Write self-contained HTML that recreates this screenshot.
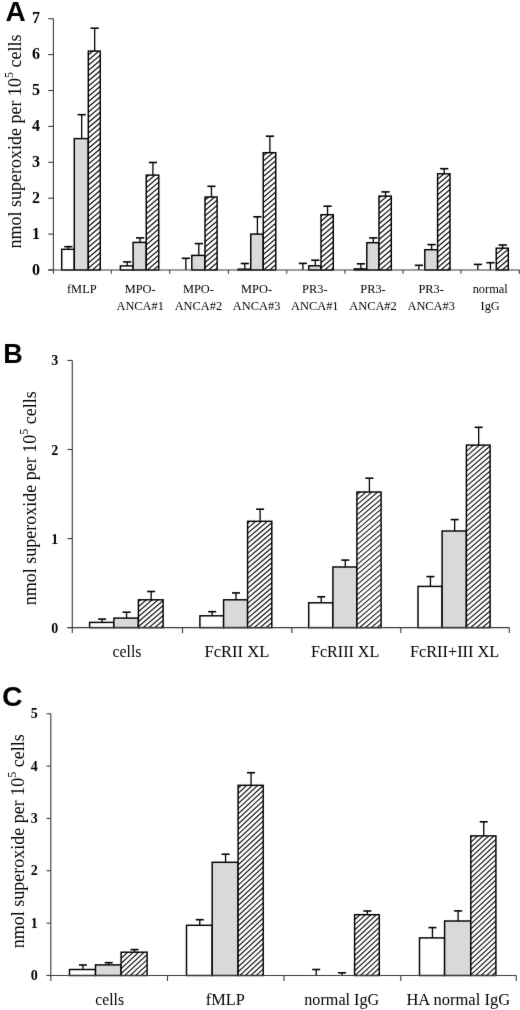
<!DOCTYPE html>
<html><head><meta charset="utf-8"><style>
html,body{margin:0;padding:0;background:#fff;}
body{width:520px;height:1010px;overflow:hidden;}
svg{display:block;filter:grayscale(1);}
.tl{font-family:"Liberation Serif",serif;font-weight:bold;fill:#000;}
.xl{font-family:"Liberation Serif",serif;fill:#000;}
.yl{font-family:"Liberation Serif",serif;fill:#000;}
.pl{font-family:"Liberation Sans",sans-serif;font-weight:bold;fill:#000;}
</style></head><body>
<svg width="520" height="1010" viewBox="0 0 520 1010">
<defs>
<pattern id="hA" patternUnits="userSpaceOnUse" width="20" height="3.7" patternTransform="translate(0,0) rotate(-42)">
<rect width="20" height="3.7" fill="#fff"/>
<rect y="1.35" width="20" height="1" fill="#000"/>
</pattern>
<pattern id="hB" patternUnits="userSpaceOnUse" width="20" height="3.8" patternTransform="translate(0,0) rotate(-40.5)">
<rect width="20" height="3.8" fill="#fff"/>
<rect y="1.4" width="20" height="1" fill="#000"/>
</pattern>
<pattern id="hC" patternUnits="userSpaceOnUse" width="20" height="3.75" patternTransform="translate(0,0) rotate(-43)">
<rect width="20" height="3.75" fill="#fff"/>
<rect y="1.38" width="20" height="1" fill="#000"/>
</pattern>
<filter id="soft" x="0" y="0" width="520" height="1010" filterUnits="userSpaceOnUse" color-interpolation-filters="sRGB"><feConvolveMatrix order="3" kernelMatrix="0.0072 0.0847 0.0072 0.0847 1.0000 0.0847 0.0072 0.0847 0.0072" divisor="1.3673" edgeMode="duplicate" preserveAlpha="true"/></filter>
</defs>
<rect width="520" height="1010" fill="#fff"/>
<g filter="url(#soft)">
<rect width="520" height="1010" fill="#fff"/>
<rect x="61.7" y="249.3" width="12.6" height="20.7" fill="#fff" stroke="#000" stroke-width="1.45"/>
<rect x="74.3" y="138.6" width="14" height="131.4" fill="#d9d9d9" stroke="#000" stroke-width="1.45"/>
<clipPath id="c21"><rect x="88.3" y="51.1" width="11.95" height="218.9"/></clipPath>
<rect x="88.3" y="51.1" width="11.95" height="218.9" fill="#fff"/>
<path clip-path="url(#c21)" d="M87.3 50.6L101.25 38.74M87.3 55.8L101.25 43.94M87.3 61L101.25 49.14M87.3 66.2L101.25 54.34M87.3 71.39L101.25 59.54M87.3 76.6L101.25 64.74M87.3 81.8L101.25 69.94M87.3 87L101.25 75.14M87.3 92.2L101.25 80.34M87.3 97.39L101.25 85.54M87.3 102.6L101.25 90.74M87.3 107.8L101.25 95.94M87.3 113L101.25 101.14M87.3 118.2L101.25 106.34M87.3 123.39L101.25 111.54M87.3 128.6L101.25 116.74M87.3 133.8L101.25 121.94M87.3 139L101.25 127.14M87.3 144.19L101.25 132.34M87.3 149.39L101.25 137.54M87.3 154.6L101.25 142.74M87.3 159.8L101.25 147.94M87.3 165L101.25 153.14M87.3 170.19L101.25 158.34M87.3 175.4L101.25 163.54M87.3 180.6L101.25 168.74M87.3 185.8L101.25 173.94M87.3 191L101.25 179.14M87.3 196.2L101.25 184.34M87.3 201.4L101.25 189.54M87.3 206.6L101.25 194.74M87.3 211.8L101.25 199.94M87.3 217L101.25 205.14M87.3 222.2L101.25 210.34M87.3 227.4L101.25 215.54M87.3 232.6L101.25 220.74M87.3 237.8L101.25 225.94M87.3 243L101.25 231.14M87.3 248.2L101.25 236.34M87.3 253.4L101.25 241.54M87.3 258.6L101.25 246.74M87.3 263.8L101.25 251.94M87.3 269L101.25 257.14M87.3 274.2L101.25 262.34M87.3 279.4L101.25 267.54M87.3 284.6L101.25 272.74" stroke="#000" stroke-width="1.15" fill="none"/>
<rect x="88.3" y="51.1" width="11.95" height="218.9" fill="none" stroke="#000" stroke-width="1.45"/>
<rect x="120.4" y="265.9" width="12.7" height="4.1" fill="#fff" stroke="#000" stroke-width="1.45"/>
<rect x="133.1" y="242.4" width="13.15" height="27.6" fill="#d9d9d9" stroke="#000" stroke-width="1.45"/>
<clipPath id="c27"><rect x="146.25" y="175.1" width="12.5" height="94.9"/></clipPath>
<rect x="146.25" y="175.1" width="12.5" height="94.9" fill="#fff"/>
<path clip-path="url(#c27)" d="M145.25 172.94L159.75 160.61M145.25 178.14L159.75 165.81M145.25 183.34L159.75 171.01M145.25 188.54L159.75 176.21M145.25 193.74L159.75 181.41M145.25 198.94L159.75 186.61M145.25 204.14L159.75 191.81M145.25 209.34L159.75 197.01M145.25 214.54L159.75 202.21M145.25 219.74L159.75 207.41M145.25 224.94L159.75 212.61M145.25 230.14L159.75 217.81M145.25 235.34L159.75 223.01M145.25 240.54L159.75 228.21M145.25 245.74L159.75 233.41M145.25 250.94L159.75 238.61M145.25 256.14L159.75 243.81M145.25 261.34L159.75 249.01M145.25 266.54L159.75 254.21M145.25 271.74L159.75 259.41M145.25 276.94L159.75 264.61M145.25 282.14L159.75 269.81" stroke="#000" stroke-width="1.15" fill="none"/>
<rect x="146.25" y="175.1" width="12.5" height="94.9" fill="none" stroke="#000" stroke-width="1.45"/>
<rect x="191.8" y="255.4" width="13.2" height="14.6" fill="#d9d9d9" stroke="#000" stroke-width="1.45"/>
<clipPath id="c32"><rect x="205" y="197" width="12.1" height="73"/></clipPath>
<rect x="205" y="197" width="12.1" height="73" fill="#fff"/>
<path clip-path="url(#c32)" d="M204 195.8L218.1 183.81M204 201L218.1 189.02M204 206.2L218.1 194.22M204 211.4L218.1 199.42M204 216.6L218.1 204.62M204 221.8L218.1 209.81M204 227L218.1 215.02M204 232.2L218.1 220.22M204 237.4L218.1 225.42M204 242.6L218.1 230.62M204 247.8L218.1 235.81M204 253L218.1 241.02M204 258.2L218.1 246.22M204 263.4L218.1 251.42M204 268.6L218.1 256.62M204 273.8L218.1 261.81M204 279L218.1 267.02M204 284.2L218.1 272.22" stroke="#000" stroke-width="1.15" fill="none"/>
<rect x="205" y="197" width="12.1" height="73" fill="none" stroke="#000" stroke-width="1.45"/>
<rect x="238.1" y="269.2" width="12.65" height="0.8" fill="#fff" stroke="#000" stroke-width="1.45"/>
<rect x="250.75" y="234.1" width="12.5" height="35.9" fill="#d9d9d9" stroke="#000" stroke-width="1.45"/>
<clipPath id="c38"><rect x="263.25" y="152.7" width="12.5" height="117.3"/></clipPath>
<rect x="263.25" y="152.7" width="12.5" height="117.3" fill="#fff"/>
<path clip-path="url(#c38)" d="M262.25 151.49L276.75 139.16M262.25 156.69L276.75 144.36M262.25 161.89L276.75 149.56M262.25 167.09L276.75 154.76M262.25 172.29L276.75 159.96M262.25 177.49L276.75 165.16M262.25 182.69L276.75 170.36M262.25 187.89L276.75 175.56M262.25 193.09L276.75 180.76M262.25 198.29L276.75 185.96M262.25 203.49L276.75 191.16M262.25 208.69L276.75 196.36M262.25 213.89L276.75 201.56M262.25 219.09L276.75 206.76M262.25 224.29L276.75 211.96M262.25 229.49L276.75 217.16M262.25 234.69L276.75 222.36M262.25 239.89L276.75 227.56M262.25 245.09L276.75 232.76M262.25 250.29L276.75 237.96M262.25 255.49L276.75 243.16M262.25 260.69L276.75 248.36M262.25 265.89L276.75 253.56M262.25 271.09L276.75 258.76M262.25 276.29L276.75 263.96M262.25 281.49L276.75 269.16" stroke="#000" stroke-width="1.15" fill="none"/>
<rect x="263.25" y="152.7" width="12.5" height="117.3" fill="none" stroke="#000" stroke-width="1.45"/>
<rect x="308.8" y="265.8" width="12.2" height="4.2" fill="#d9d9d9" stroke="#000" stroke-width="1.45"/>
<clipPath id="c43"><rect x="321" y="214.7" width="12.3" height="55.3"/></clipPath>
<rect x="321" y="214.7" width="12.3" height="55.3" fill="#fff"/>
<path clip-path="url(#c43)" d="M320 211.6L334.3 199.44M320 216.8L334.3 204.64M320 222L334.3 209.84M320 227.2L334.3 215.05M320 232.4L334.3 220.25M320 237.6L334.3 225.44M320 242.8L334.3 230.65M320 248L334.3 235.84M320 253.2L334.3 241.05M320 258.4L334.3 246.24M320 263.6L334.3 251.44M320 268.8L334.3 256.65M320 274L334.3 261.84M320 279.2L334.3 267.05M320 284.4L334.3 272.24" stroke="#000" stroke-width="1.15" fill="none"/>
<rect x="321" y="214.7" width="12.3" height="55.3" fill="none" stroke="#000" stroke-width="1.45"/>
<rect x="354.2" y="268.9" width="12.6" height="1.1" fill="#fff" stroke="#000" stroke-width="1.45"/>
<rect x="366.8" y="242.7" width="12.2" height="27.3" fill="#d9d9d9" stroke="#000" stroke-width="1.45"/>
<clipPath id="c49"><rect x="379" y="196.1" width="12.3" height="73.9"/></clipPath>
<rect x="379" y="196.1" width="12.3" height="73.9" fill="#fff"/>
<path clip-path="url(#c49)" d="M378 193.5L392.3 181.35M378 198.7L392.3 186.55M378 203.9L392.3 191.75M378 209.1L392.3 196.94M378 214.3L392.3 202.15M378 219.5L392.3 207.35M378 224.7L392.3 212.55M378 229.9L392.3 217.75M378 235.1L392.3 222.94M378 240.3L392.3 228.15M378 245.5L392.3 233.35M378 250.7L392.3 238.55M378 255.9L392.3 243.75M378 261.1L392.3 248.94M378 266.3L392.3 254.15M378 271.5L392.3 259.35M378 276.7L392.3 264.55M378 281.9L392.3 269.75" stroke="#000" stroke-width="1.15" fill="none"/>
<rect x="379" y="196.1" width="12.3" height="73.9" fill="none" stroke="#000" stroke-width="1.45"/>
<rect x="424.8" y="249.7" width="12.8" height="20.3" fill="#d9d9d9" stroke="#000" stroke-width="1.45"/>
<clipPath id="c54"><rect x="437.6" y="173.8" width="12.4" height="96.2"/></clipPath>
<rect x="437.6" y="173.8" width="12.4" height="96.2" fill="#fff"/>
<path clip-path="url(#c54)" d="M436.6 169.69L451 157.45M436.6 174.89L451 162.65M436.6 180.09L451 167.85M436.6 185.29L451 173.05M436.6 190.49L451 178.25M436.6 195.69L451 183.45M436.6 200.89L451 188.65M436.6 206.09L451 193.85M436.6 211.29L451 199.05M436.6 216.49L451 204.25M436.6 221.69L451 209.45M436.6 226.89L451 214.65M436.6 232.09L451 219.85M436.6 237.29L451 225.05M436.6 242.49L451 230.25M436.6 247.69L451 235.45M436.6 252.89L451 240.65M436.6 258.09L451 245.85M436.6 263.29L451 251.05M436.6 268.49L451 256.25M436.6 273.69L451 261.45M436.6 278.89L451 266.65M436.6 284.09L451 271.85" stroke="#000" stroke-width="1.15" fill="none"/>
<rect x="437.6" y="173.8" width="12.4" height="96.2" fill="none" stroke="#000" stroke-width="1.45"/>
<clipPath id="c58"><rect x="496.25" y="248.2" width="12.05" height="21.8"/></clipPath>
<rect x="496.25" y="248.2" width="12.05" height="21.8" fill="#fff"/>
<path clip-path="url(#c58)" d="M495.25 244.64L509.3 232.7M495.25 249.84L509.3 237.9M495.25 255.04L509.3 243.1M495.25 260.24L509.3 248.3M495.25 265.44L509.3 253.5M495.25 270.64L509.3 258.7M495.25 275.84L509.3 263.9M495.25 281.04L509.3 269.1M495.25 286.24L509.3 274.3" stroke="#000" stroke-width="1.15" fill="none"/>
<rect x="496.25" y="248.2" width="12.05" height="21.8" fill="none" stroke="#000" stroke-width="1.45"/>
<line x1="68.4" y1="249.3" x2="68.4" y2="246.7" stroke="#000" stroke-width="1.3"/>
<line x1="64.3" y1="246.7" x2="72.5" y2="246.7" stroke="#000" stroke-width="1.6"/>
<line x1="81.7" y1="138.6" x2="81.7" y2="114.7" stroke="#000" stroke-width="1.3"/>
<line x1="77.6" y1="114.7" x2="85.8" y2="114.7" stroke="#000" stroke-width="1.6"/>
<line x1="94.68" y1="51.1" x2="94.68" y2="28.2" stroke="#000" stroke-width="1.3"/>
<line x1="90.58" y1="28.2" x2="98.78" y2="28.2" stroke="#000" stroke-width="1.6"/>
<line x1="127.15" y1="265.9" x2="127.15" y2="261.9" stroke="#000" stroke-width="1.3"/>
<line x1="123.05" y1="261.9" x2="131.25" y2="261.9" stroke="#000" stroke-width="1.6"/>
<line x1="140.08" y1="242.4" x2="140.08" y2="237.9" stroke="#000" stroke-width="1.3"/>
<line x1="135.98" y1="237.9" x2="144.18" y2="237.9" stroke="#000" stroke-width="1.6"/>
<line x1="152.9" y1="175.1" x2="152.9" y2="162.5" stroke="#000" stroke-width="1.3"/>
<line x1="148.8" y1="162.5" x2="157" y2="162.5" stroke="#000" stroke-width="1.6"/>
<line x1="185.9" y1="270" x2="185.9" y2="258.3" stroke="#000" stroke-width="1.3"/>
<line x1="181.8" y1="258.3" x2="190" y2="258.3" stroke="#000" stroke-width="1.6"/>
<line x1="198.8" y1="255.4" x2="198.8" y2="243.6" stroke="#000" stroke-width="1.3"/>
<line x1="194.7" y1="243.6" x2="202.9" y2="243.6" stroke="#000" stroke-width="1.6"/>
<line x1="211.45" y1="197" x2="211.45" y2="186.3" stroke="#000" stroke-width="1.3"/>
<line x1="207.35" y1="186.3" x2="215.55" y2="186.3" stroke="#000" stroke-width="1.6"/>
<line x1="244.83" y1="269.2" x2="244.83" y2="263.5" stroke="#000" stroke-width="1.3"/>
<line x1="240.73" y1="263.5" x2="248.93" y2="263.5" stroke="#000" stroke-width="1.6"/>
<line x1="257.4" y1="234.1" x2="257.4" y2="216.8" stroke="#000" stroke-width="1.3"/>
<line x1="253.3" y1="216.8" x2="261.5" y2="216.8" stroke="#000" stroke-width="1.6"/>
<line x1="269.9" y1="152.7" x2="269.9" y2="136.2" stroke="#000" stroke-width="1.3"/>
<line x1="265.8" y1="136.2" x2="274" y2="136.2" stroke="#000" stroke-width="1.6"/>
<line x1="302.9" y1="270" x2="302.9" y2="263.4" stroke="#000" stroke-width="1.3"/>
<line x1="298.8" y1="263.4" x2="307" y2="263.4" stroke="#000" stroke-width="1.6"/>
<line x1="315.3" y1="265.8" x2="315.3" y2="260.2" stroke="#000" stroke-width="1.3"/>
<line x1="311.2" y1="260.2" x2="319.4" y2="260.2" stroke="#000" stroke-width="1.6"/>
<line x1="327.55" y1="214.7" x2="327.55" y2="206.2" stroke="#000" stroke-width="1.3"/>
<line x1="323.45" y1="206.2" x2="331.65" y2="206.2" stroke="#000" stroke-width="1.6"/>
<line x1="360.9" y1="268.9" x2="360.9" y2="263.8" stroke="#000" stroke-width="1.3"/>
<line x1="356.8" y1="263.8" x2="365" y2="263.8" stroke="#000" stroke-width="1.6"/>
<line x1="373.3" y1="242.7" x2="373.3" y2="237.9" stroke="#000" stroke-width="1.3"/>
<line x1="369.2" y1="237.9" x2="377.4" y2="237.9" stroke="#000" stroke-width="1.6"/>
<line x1="385.55" y1="196.1" x2="385.55" y2="191.9" stroke="#000" stroke-width="1.3"/>
<line x1="381.45" y1="191.9" x2="389.65" y2="191.9" stroke="#000" stroke-width="1.6"/>
<line x1="418.9" y1="270" x2="418.9" y2="265.3" stroke="#000" stroke-width="1.3"/>
<line x1="414.8" y1="265.3" x2="423" y2="265.3" stroke="#000" stroke-width="1.6"/>
<line x1="431.6" y1="249.7" x2="431.6" y2="244.6" stroke="#000" stroke-width="1.3"/>
<line x1="427.5" y1="244.6" x2="435.7" y2="244.6" stroke="#000" stroke-width="1.6"/>
<line x1="444.2" y1="173.8" x2="444.2" y2="168.7" stroke="#000" stroke-width="1.3"/>
<line x1="440.1" y1="168.7" x2="448.3" y2="168.7" stroke="#000" stroke-width="1.6"/>
<line x1="477.88" y1="270" x2="477.88" y2="264.4" stroke="#000" stroke-width="1.3"/>
<line x1="473.77" y1="264.4" x2="481.98" y2="264.4" stroke="#000" stroke-width="1.6"/>
<line x1="490.4" y1="270" x2="490.4" y2="262.7" stroke="#000" stroke-width="1.3"/>
<line x1="486.3" y1="262.7" x2="494.5" y2="262.7" stroke="#000" stroke-width="1.6"/>
<line x1="502.67" y1="248.2" x2="502.67" y2="245" stroke="#000" stroke-width="1.3"/>
<line x1="498.57" y1="245" x2="506.77" y2="245" stroke="#000" stroke-width="1.6"/>
<line x1="53.4" y1="18.7" x2="53.4" y2="273.8" stroke="#3a3a3a" stroke-width="1.1"/>
<line x1="48.2" y1="270" x2="519.5" y2="270" stroke="#3a3a3a" stroke-width="1.1"/>
<line x1="48.2" y1="270" x2="53.4" y2="270" stroke="#3a3a3a" stroke-width="1.1"/>
<text x="40" y="274.7" class="tl" style="font-size:16px" text-anchor="end">0</text>
<line x1="48.2" y1="234.1" x2="53.4" y2="234.1" stroke="#3a3a3a" stroke-width="1.1"/>
<text x="40" y="238.8" class="tl" style="font-size:16px" text-anchor="end">1</text>
<line x1="48.2" y1="198.2" x2="53.4" y2="198.2" stroke="#3a3a3a" stroke-width="1.1"/>
<text x="40" y="202.9" class="tl" style="font-size:16px" text-anchor="end">2</text>
<line x1="48.2" y1="162.3" x2="53.4" y2="162.3" stroke="#3a3a3a" stroke-width="1.1"/>
<text x="40" y="167" class="tl" style="font-size:16px" text-anchor="end">3</text>
<line x1="48.2" y1="126.4" x2="53.4" y2="126.4" stroke="#3a3a3a" stroke-width="1.1"/>
<text x="40" y="131.1" class="tl" style="font-size:16px" text-anchor="end">4</text>
<line x1="48.2" y1="90.5" x2="53.4" y2="90.5" stroke="#3a3a3a" stroke-width="1.1"/>
<text x="40" y="95.2" class="tl" style="font-size:16px" text-anchor="end">5</text>
<line x1="48.2" y1="54.6" x2="53.4" y2="54.6" stroke="#3a3a3a" stroke-width="1.1"/>
<text x="40" y="59.3" class="tl" style="font-size:16px" text-anchor="end">6</text>
<line x1="48.2" y1="18.7" x2="53.4" y2="18.7" stroke="#3a3a3a" stroke-width="1.1"/>
<text x="40" y="23.4" class="tl" style="font-size:16px" text-anchor="end">7</text>
<line x1="111.3" y1="270" x2="111.3" y2="273.8" stroke="#3a3a3a" stroke-width="1.1"/>
<line x1="169.7" y1="270" x2="169.7" y2="273.8" stroke="#3a3a3a" stroke-width="1.1"/>
<line x1="228.4" y1="270" x2="228.4" y2="273.8" stroke="#3a3a3a" stroke-width="1.1"/>
<line x1="286.8" y1="270" x2="286.8" y2="273.8" stroke="#3a3a3a" stroke-width="1.1"/>
<line x1="344.9" y1="270" x2="344.9" y2="273.8" stroke="#3a3a3a" stroke-width="1.1"/>
<line x1="403" y1="270" x2="403" y2="273.8" stroke="#3a3a3a" stroke-width="1.1"/>
<line x1="461" y1="270" x2="461" y2="273.8" stroke="#3a3a3a" stroke-width="1.1"/>
<line x1="519.3" y1="270" x2="519.3" y2="273.8" stroke="#3a3a3a" stroke-width="1.1"/>
<text x="81.8" y="292.5" class="xl" style="font-size:12.4px" text-anchor="middle">fMLP</text>
<text x="140.2" y="292.5" class="xl" style="font-size:12.4px" text-anchor="middle">MPO-</text>
<text x="140.2" y="309.7" class="xl" style="font-size:12.4px" text-anchor="middle">ANCA#1</text>
<text x="198.4" y="292.5" class="xl" style="font-size:12.4px" text-anchor="middle">MPO-</text>
<text x="198.4" y="309.7" class="xl" style="font-size:12.4px" text-anchor="middle">ANCA#2</text>
<text x="256.6" y="292.5" class="xl" style="font-size:12.4px" text-anchor="middle">MPO-</text>
<text x="256.6" y="309.7" class="xl" style="font-size:12.4px" text-anchor="middle">ANCA#3</text>
<text x="314.8" y="292.5" class="xl" style="font-size:12.4px" text-anchor="middle">PR3-</text>
<text x="314.8" y="309.7" class="xl" style="font-size:12.4px" text-anchor="middle">ANCA#1</text>
<text x="373" y="292.5" class="xl" style="font-size:12.4px" text-anchor="middle">PR3-</text>
<text x="373" y="309.7" class="xl" style="font-size:12.4px" text-anchor="middle">ANCA#2</text>
<text x="431.2" y="292.5" class="xl" style="font-size:12.4px" text-anchor="middle">PR3-</text>
<text x="431.2" y="309.7" class="xl" style="font-size:12.4px" text-anchor="middle">ANCA#3</text>
<text x="490.2" y="292.5" class="xl" style="font-size:12.4px" text-anchor="middle">normal</text>
<text x="490.2" y="309.7" class="xl" style="font-size:12.4px" text-anchor="middle">IgG</text>
<text transform="translate(21,141.5) rotate(-90)" class="yl" style="font-size:18px" text-anchor="middle">nmol superoxide per 10<tspan dy="-8" style="font-size:12px">5</tspan><tspan dy="8"> cells</tspan></text>
<text x="5.5" y="21" class="pl" style="font-size:28px">A</text>
<rect x="89.6" y="622.4" width="24.3" height="5.2" fill="#fff" stroke="#000" stroke-width="1.45"/>
<rect x="113.9" y="618.1" width="24.5" height="9.5" fill="#d9d9d9" stroke="#000" stroke-width="1.45"/>
<clipPath id="c155"><rect x="138.4" y="599.8" width="24.7" height="27.8"/></clipPath>
<rect x="138.4" y="599.8" width="24.7" height="27.8" fill="#fff"/>
<path clip-path="url(#c155)" d="M137.4 597.52L164.1 574.69M137.4 602.52L164.1 579.69M137.4 607.52L164.1 584.69M137.4 612.52L164.1 589.69M137.4 617.52L164.1 594.69M137.4 622.52L164.1 599.69M137.4 627.52L164.1 604.69M137.4 632.52L164.1 609.69M137.4 637.52L164.1 614.69M137.4 642.52L164.1 619.69M137.4 647.52L164.1 624.69M137.4 652.52L164.1 629.69" stroke="#000" stroke-width="1.05" fill="none"/>
<rect x="138.4" y="599.8" width="24.7" height="27.8" fill="none" stroke="#000" stroke-width="1.45"/>
<rect x="199.9" y="615.8" width="23.7" height="11.8" fill="#fff" stroke="#000" stroke-width="1.45"/>
<rect x="223.6" y="599.8" width="24" height="27.8" fill="#d9d9d9" stroke="#000" stroke-width="1.45"/>
<clipPath id="c161"><rect x="247.6" y="521.3" width="24.2" height="106.3"/></clipPath>
<rect x="247.6" y="521.3" width="24.2" height="106.3" fill="#fff"/>
<path clip-path="url(#c161)" d="M246.6 519.16L272.8 496.76M246.6 524.16L272.8 501.76M246.6 529.16L272.8 506.76M246.6 534.16L272.8 511.76M246.6 539.16L272.8 516.76M246.6 544.16L272.8 521.76M246.6 549.16L272.8 526.76M246.6 554.16L272.8 531.76M246.6 559.16L272.8 536.76M246.6 564.16L272.8 541.76M246.6 569.16L272.8 546.76M246.6 574.16L272.8 551.76M246.6 579.16L272.8 556.76M246.6 584.16L272.8 561.76M246.6 589.16L272.8 566.76M246.6 594.16L272.8 571.76M246.6 599.16L272.8 576.76M246.6 604.16L272.8 581.76M246.6 609.16L272.8 586.76M246.6 614.16L272.8 591.76M246.6 619.16L272.8 596.76M246.6 624.16L272.8 601.76M246.6 629.16L272.8 606.76M246.6 634.16L272.8 611.76M246.6 639.16L272.8 616.76M246.6 644.16L272.8 621.76M246.6 649.16L272.8 626.76" stroke="#000" stroke-width="1.05" fill="none"/>
<rect x="247.6" y="521.3" width="24.2" height="106.3" fill="none" stroke="#000" stroke-width="1.45"/>
<rect x="308.7" y="602.8" width="24.2" height="24.8" fill="#fff" stroke="#000" stroke-width="1.45"/>
<rect x="332.9" y="567" width="24" height="60.6" fill="#d9d9d9" stroke="#000" stroke-width="1.45"/>
<clipPath id="c167"><rect x="356.9" y="492" width="24.2" height="135.6"/></clipPath>
<rect x="356.9" y="492" width="24.2" height="135.6" fill="#fff"/>
<path clip-path="url(#c167)" d="M355.9 490.71L382.1 468.3M355.9 495.71L382.1 473.3M355.9 500.71L382.1 478.3M355.9 505.71L382.1 483.3M355.9 510.71L382.1 488.3M355.9 515.71L382.1 493.3M355.9 520.71L382.1 498.3M355.9 525.71L382.1 503.3M355.9 530.71L382.1 508.3M355.9 535.71L382.1 513.3M355.9 540.71L382.1 518.3M355.9 545.71L382.1 523.3M355.9 550.71L382.1 528.3M355.9 555.71L382.1 533.3M355.9 560.71L382.1 538.3M355.9 565.71L382.1 543.3M355.9 570.71L382.1 548.3M355.9 575.71L382.1 553.3M355.9 580.71L382.1 558.3M355.9 585.71L382.1 563.3M355.9 590.71L382.1 568.3M355.9 595.71L382.1 573.3M355.9 600.71L382.1 578.3M355.9 605.71L382.1 583.3M355.9 610.71L382.1 588.3M355.9 615.71L382.1 593.3M355.9 620.71L382.1 598.3M355.9 625.71L382.1 603.3M355.9 630.71L382.1 608.3M355.9 635.71L382.1 613.3M355.9 640.71L382.1 618.3M355.9 645.71L382.1 623.3M355.9 650.71L382.1 628.3" stroke="#000" stroke-width="1.05" fill="none"/>
<rect x="356.9" y="492" width="24.2" height="135.6" fill="none" stroke="#000" stroke-width="1.45"/>
<rect x="418" y="586.4" width="24.1" height="41.2" fill="#fff" stroke="#000" stroke-width="1.45"/>
<rect x="442.1" y="531" width="24.3" height="96.6" fill="#d9d9d9" stroke="#000" stroke-width="1.45"/>
<clipPath id="c173"><rect x="466.4" y="445.1" width="23.7" height="182.5"/></clipPath>
<rect x="466.4" y="445.1" width="23.7" height="182.5" fill="#fff"/>
<path clip-path="url(#c173)" d="M465.4 442.08L491.1 420.11M465.4 447.08L491.1 425.11M465.4 452.08L491.1 430.11M465.4 457.08L491.1 435.11M465.4 462.08L491.1 440.11M465.4 467.08L491.1 445.11M465.4 472.08L491.1 450.11M465.4 477.08L491.1 455.11M465.4 482.08L491.1 460.11M465.4 487.08L491.1 465.11M465.4 492.08L491.1 470.11M465.4 497.08L491.1 475.11M465.4 502.08L491.1 480.11M465.4 507.08L491.1 485.11M465.4 512.08L491.1 490.11M465.4 517.08L491.1 495.11M465.4 522.08L491.1 500.11M465.4 527.08L491.1 505.11M465.4 532.08L491.1 510.11M465.4 537.08L491.1 515.11M465.4 542.08L491.1 520.11M465.4 547.08L491.1 525.11M465.4 552.08L491.1 530.11M465.4 557.08L491.1 535.11M465.4 562.08L491.1 540.11M465.4 567.08L491.1 545.11M465.4 572.08L491.1 550.11M465.4 577.08L491.1 555.11M465.4 582.08L491.1 560.11M465.4 587.08L491.1 565.11M465.4 592.08L491.1 570.11M465.4 597.08L491.1 575.11M465.4 602.08L491.1 580.11M465.4 607.08L491.1 585.11M465.4 612.08L491.1 590.11M465.4 617.08L491.1 595.11M465.4 622.08L491.1 600.11M465.4 627.08L491.1 605.11M465.4 632.08L491.1 610.11M465.4 637.08L491.1 615.11M465.4 642.08L491.1 620.11M465.4 647.08L491.1 625.11M465.4 652.08L491.1 630.11" stroke="#000" stroke-width="1.05" fill="none"/>
<rect x="466.4" y="445.1" width="23.7" height="182.5" fill="none" stroke="#000" stroke-width="1.45"/>
<line x1="102.15" y1="622.4" x2="102.15" y2="619.1" stroke="#000" stroke-width="1.3"/>
<line x1="98.15" y1="619.1" x2="106.15" y2="619.1" stroke="#000" stroke-width="1.6"/>
<line x1="126.55" y1="618.1" x2="126.55" y2="612.2" stroke="#000" stroke-width="1.3"/>
<line x1="122.55" y1="612.2" x2="130.55" y2="612.2" stroke="#000" stroke-width="1.6"/>
<line x1="151.15" y1="599.8" x2="151.15" y2="591.5" stroke="#000" stroke-width="1.3"/>
<line x1="147.15" y1="591.5" x2="155.15" y2="591.5" stroke="#000" stroke-width="1.6"/>
<line x1="212.15" y1="615.8" x2="212.15" y2="611.7" stroke="#000" stroke-width="1.3"/>
<line x1="208.15" y1="611.7" x2="216.15" y2="611.7" stroke="#000" stroke-width="1.6"/>
<line x1="236" y1="599.8" x2="236" y2="592.9" stroke="#000" stroke-width="1.3"/>
<line x1="232" y1="592.9" x2="240" y2="592.9" stroke="#000" stroke-width="1.6"/>
<line x1="260.1" y1="521.3" x2="260.1" y2="509.2" stroke="#000" stroke-width="1.3"/>
<line x1="256.1" y1="509.2" x2="264.1" y2="509.2" stroke="#000" stroke-width="1.6"/>
<line x1="321.2" y1="602.8" x2="321.2" y2="596.8" stroke="#000" stroke-width="1.3"/>
<line x1="317.2" y1="596.8" x2="325.2" y2="596.8" stroke="#000" stroke-width="1.6"/>
<line x1="345.3" y1="567" x2="345.3" y2="560.1" stroke="#000" stroke-width="1.3"/>
<line x1="341.3" y1="560.1" x2="349.3" y2="560.1" stroke="#000" stroke-width="1.6"/>
<line x1="369.4" y1="492" x2="369.4" y2="478.2" stroke="#000" stroke-width="1.3"/>
<line x1="365.4" y1="478.2" x2="373.4" y2="478.2" stroke="#000" stroke-width="1.6"/>
<line x1="430.45" y1="586.4" x2="430.45" y2="576.6" stroke="#000" stroke-width="1.3"/>
<line x1="426.45" y1="576.6" x2="434.45" y2="576.6" stroke="#000" stroke-width="1.6"/>
<line x1="454.65" y1="531" x2="454.65" y2="519.6" stroke="#000" stroke-width="1.3"/>
<line x1="450.65" y1="519.6" x2="458.65" y2="519.6" stroke="#000" stroke-width="1.6"/>
<line x1="478.65" y1="445.1" x2="478.65" y2="427.3" stroke="#000" stroke-width="1.3"/>
<line x1="474.65" y1="427.3" x2="482.65" y2="427.3" stroke="#000" stroke-width="1.6"/>
<line x1="72.3" y1="360.45" x2="72.3" y2="633.1" stroke="#3a3a3a" stroke-width="1.1"/>
<line x1="67.5" y1="627.6" x2="509.3" y2="627.6" stroke="#3a3a3a" stroke-width="1.1"/>
<line x1="67.5" y1="627.6" x2="72.3" y2="627.6" stroke="#3a3a3a" stroke-width="1.1"/>
<text x="58.3" y="632.6" class="tl" style="font-size:14px" text-anchor="end">0</text>
<line x1="67.5" y1="538.55" x2="72.3" y2="538.55" stroke="#3a3a3a" stroke-width="1.1"/>
<text x="58.3" y="543.55" class="tl" style="font-size:14px" text-anchor="end">1</text>
<line x1="67.5" y1="449.5" x2="72.3" y2="449.5" stroke="#3a3a3a" stroke-width="1.1"/>
<text x="58.3" y="454.5" class="tl" style="font-size:14px" text-anchor="end">2</text>
<line x1="67.5" y1="360.45" x2="72.3" y2="360.45" stroke="#3a3a3a" stroke-width="1.1"/>
<text x="58.3" y="365.45" class="tl" style="font-size:14px" text-anchor="end">3</text>
<line x1="182.5" y1="627.6" x2="182.5" y2="633.1" stroke="#3a3a3a" stroke-width="1.1"/>
<line x1="291.8" y1="627.6" x2="291.8" y2="633.1" stroke="#3a3a3a" stroke-width="1.1"/>
<line x1="400.8" y1="627.6" x2="400.8" y2="633.1" stroke="#3a3a3a" stroke-width="1.1"/>
<line x1="509.3" y1="627.6" x2="509.3" y2="633.1" stroke="#3a3a3a" stroke-width="1.1"/>
<text x="127.05" y="656.8" class="xl" style="font-size:16.3px" text-anchor="middle" textLength="28.9" lengthAdjust="spacingAndGlyphs">cells</text>
<text x="236.9" y="656.8" class="xl" style="font-size:16.3px" text-anchor="middle" textLength="64.8" lengthAdjust="spacingAndGlyphs">FcRII XL</text>
<text x="345.15" y="656.8" class="xl" style="font-size:16.3px" text-anchor="middle" textLength="68.3" lengthAdjust="spacingAndGlyphs">FcRIII XL</text>
<text x="454.6" y="656.8" class="xl" style="font-size:16.3px" text-anchor="middle" textLength="89.4" lengthAdjust="spacingAndGlyphs">FcRII+III XL</text>
<text transform="translate(36.4,498.3) rotate(-90)" class="yl" style="font-size:18px" text-anchor="middle">nmol superoxide per 10<tspan dy="-8" style="font-size:12px">5</tspan><tspan dy="8"> cells</tspan></text>
<text x="3.2" y="363.3" class="pl" style="font-size:27px">B</text>
<rect x="69.5" y="969.5" width="26" height="6" fill="#fff" stroke="#000" stroke-width="1.45"/>
<rect x="95.5" y="964.9" width="25.6" height="10.6" fill="#d9d9d9" stroke="#000" stroke-width="1.45"/>
<clipPath id="c223"><rect x="121.1" y="952.2" width="26" height="23.3"/></clipPath>
<rect x="121.1" y="952.2" width="26" height="23.3" fill="#fff"/>
<path clip-path="url(#c223)" d="M120.1 949.11L148.1 923.07M120.1 954.21L148.1 928.17M120.1 959.31L148.1 933.27M120.1 964.41L148.1 938.37M120.1 969.51L148.1 943.47M120.1 974.61L148.1 948.57M120.1 979.71L148.1 953.67M120.1 984.81L148.1 958.77M120.1 989.91L148.1 963.87M120.1 995.01L148.1 968.97M120.1 1000.11L148.1 974.07M120.1 1005.21L148.1 979.17" stroke="#000" stroke-width="1.05" fill="none"/>
<rect x="121.1" y="952.2" width="26" height="23.3" fill="none" stroke="#000" stroke-width="1.45"/>
<rect x="186.5" y="925.3" width="25.7" height="50.2" fill="#fff" stroke="#000" stroke-width="1.45"/>
<rect x="212.2" y="862.3" width="25.9" height="113.2" fill="#d9d9d9" stroke="#000" stroke-width="1.45"/>
<clipPath id="c229"><rect x="238.1" y="785.3" width="25.1" height="190.2"/></clipPath>
<rect x="238.1" y="785.3" width="25.1" height="190.2" fill="#fff"/>
<path clip-path="url(#c229)" d="M237.1 784.2L264.2 758.99M237.1 789.3L264.2 764.09M237.1 794.4L264.2 769.19M237.1 799.5L264.2 774.29M237.1 804.6L264.2 779.39M237.1 809.7L264.2 784.49M237.1 814.8L264.2 789.59M237.1 819.9L264.2 794.69M237.1 825L264.2 799.79M237.1 830.1L264.2 804.89M237.1 835.2L264.2 809.99M237.1 840.3L264.2 815.09M237.1 845.4L264.2 820.19M237.1 850.5L264.2 825.29M237.1 855.6L264.2 830.39M237.1 860.7L264.2 835.49M237.1 865.8L264.2 840.59M237.1 870.9L264.2 845.69M237.1 876L264.2 850.79M237.1 881.1L264.2 855.89M237.1 886.2L264.2 860.99M237.1 891.3L264.2 866.09M237.1 896.4L264.2 871.19M237.1 901.5L264.2 876.29M237.1 906.6L264.2 881.39M237.1 911.7L264.2 886.49M237.1 916.8L264.2 891.59M237.1 921.9L264.2 896.69M237.1 927L264.2 901.79M237.1 932.1L264.2 906.89M237.1 937.2L264.2 911.99M237.1 942.3L264.2 917.09M237.1 947.4L264.2 922.19M237.1 952.5L264.2 927.29M237.1 957.6L264.2 932.39M237.1 962.7L264.2 937.49M237.1 967.8L264.2 942.59M237.1 972.9L264.2 947.69M237.1 978L264.2 952.79M237.1 983.1L264.2 957.89M237.1 988.2L264.2 962.99M237.1 993.3L264.2 968.09M237.1 998.4L264.2 973.19M237.1 1003.5L264.2 978.29" stroke="#000" stroke-width="1.05" fill="none"/>
<rect x="238.1" y="785.3" width="25.1" height="190.2" fill="none" stroke="#000" stroke-width="1.45"/>
<clipPath id="c233"><rect x="354.6" y="914.7" width="24.7" height="60.8"/></clipPath>
<rect x="354.6" y="914.7" width="24.7" height="60.8" fill="#fff"/>
<path clip-path="url(#c233)" d="M353.6 915.55L380.3 890.72M353.6 920.65L380.3 895.82M353.6 925.75L380.3 900.92M353.6 930.85L380.3 906.02M353.6 935.95L380.3 911.12M353.6 941.05L380.3 916.22M353.6 946.15L380.3 921.32M353.6 951.25L380.3 926.42M353.6 956.35L380.3 931.52M353.6 961.45L380.3 936.62M353.6 966.55L380.3 941.72M353.6 971.65L380.3 946.82M353.6 976.75L380.3 951.92M353.6 981.85L380.3 957.02M353.6 986.95L380.3 962.12M353.6 992.05L380.3 967.22M353.6 997.15L380.3 972.32M353.6 1002.25L380.3 977.42" stroke="#000" stroke-width="1.05" fill="none"/>
<rect x="354.6" y="914.7" width="24.7" height="60.8" fill="none" stroke="#000" stroke-width="1.45"/>
<rect x="419.5" y="937.9" width="25.1" height="37.6" fill="#fff" stroke="#000" stroke-width="1.45"/>
<rect x="444.6" y="921" width="26.2" height="54.5" fill="#d9d9d9" stroke="#000" stroke-width="1.45"/>
<clipPath id="c239"><rect x="470.8" y="835.9" width="25.1" height="139.6"/></clipPath>
<rect x="470.8" y="835.9" width="25.1" height="139.6" fill="#fff"/>
<path clip-path="url(#c239)" d="M469.8 832.99L496.9 807.78M469.8 838.09L496.9 812.88M469.8 843.19L496.9 817.98M469.8 848.29L496.9 823.08M469.8 853.39L496.9 828.18M469.8 858.49L496.9 833.28M469.8 863.59L496.9 838.38M469.8 868.69L496.9 843.48M469.8 873.79L496.9 848.58M469.8 878.89L496.9 853.68M469.8 883.99L496.9 858.78M469.8 889.09L496.9 863.88M469.8 894.19L496.9 868.98M469.8 899.29L496.9 874.08M469.8 904.39L496.9 879.18M469.8 909.49L496.9 884.28M469.8 914.59L496.9 889.38M469.8 919.69L496.9 894.48M469.8 924.79L496.9 899.58M469.8 929.89L496.9 904.68M469.8 934.99L496.9 909.78M469.8 940.09L496.9 914.88M469.8 945.19L496.9 919.98M469.8 950.29L496.9 925.08M469.8 955.39L496.9 930.18M469.8 960.49L496.9 935.28M469.8 965.59L496.9 940.38M469.8 970.69L496.9 945.48M469.8 975.79L496.9 950.58M469.8 980.89L496.9 955.68M469.8 985.99L496.9 960.78M469.8 991.09L496.9 965.88M469.8 996.19L496.9 970.98M469.8 1001.29L496.9 976.08" stroke="#000" stroke-width="1.05" fill="none"/>
<rect x="470.8" y="835.9" width="25.1" height="139.6" fill="none" stroke="#000" stroke-width="1.45"/>
<line x1="82.9" y1="969.5" x2="82.9" y2="965" stroke="#000" stroke-width="1.3"/>
<line x1="78.9" y1="965" x2="86.9" y2="965" stroke="#000" stroke-width="1.6"/>
<line x1="108.7" y1="964.9" x2="108.7" y2="962.7" stroke="#000" stroke-width="1.3"/>
<line x1="104.7" y1="962.7" x2="112.7" y2="962.7" stroke="#000" stroke-width="1.6"/>
<line x1="134.5" y1="952.2" x2="134.5" y2="949.6" stroke="#000" stroke-width="1.3"/>
<line x1="130.5" y1="949.6" x2="138.5" y2="949.6" stroke="#000" stroke-width="1.6"/>
<line x1="199.75" y1="925.3" x2="199.75" y2="919.7" stroke="#000" stroke-width="1.3"/>
<line x1="195.75" y1="919.7" x2="203.75" y2="919.7" stroke="#000" stroke-width="1.6"/>
<line x1="225.55" y1="862.3" x2="225.55" y2="854.2" stroke="#000" stroke-width="1.3"/>
<line x1="221.55" y1="854.2" x2="229.55" y2="854.2" stroke="#000" stroke-width="1.6"/>
<line x1="251.05" y1="785.3" x2="251.05" y2="772.7" stroke="#000" stroke-width="1.3"/>
<line x1="247.05" y1="772.7" x2="255.05" y2="772.7" stroke="#000" stroke-width="1.6"/>
<line x1="316.2" y1="975.5" x2="316.2" y2="969.5" stroke="#000" stroke-width="1.3"/>
<line x1="312.2" y1="969.5" x2="320.2" y2="969.5" stroke="#000" stroke-width="1.6"/>
<line x1="342" y1="975.5" x2="342" y2="972.8" stroke="#000" stroke-width="1.3"/>
<line x1="338" y1="972.8" x2="346" y2="972.8" stroke="#000" stroke-width="1.6"/>
<line x1="367.35" y1="914.7" x2="367.35" y2="911" stroke="#000" stroke-width="1.3"/>
<line x1="363.35" y1="911" x2="371.35" y2="911" stroke="#000" stroke-width="1.6"/>
<line x1="432.45" y1="937.9" x2="432.45" y2="927.6" stroke="#000" stroke-width="1.3"/>
<line x1="428.45" y1="927.6" x2="436.45" y2="927.6" stroke="#000" stroke-width="1.6"/>
<line x1="458.1" y1="921" x2="458.1" y2="910.9" stroke="#000" stroke-width="1.3"/>
<line x1="454.1" y1="910.9" x2="462.1" y2="910.9" stroke="#000" stroke-width="1.6"/>
<line x1="483.75" y1="835.9" x2="483.75" y2="821.8" stroke="#000" stroke-width="1.3"/>
<line x1="479.75" y1="821.8" x2="487.75" y2="821.8" stroke="#000" stroke-width="1.6"/>
<line x1="50.8" y1="713.75" x2="50.8" y2="981" stroke="#3a3a3a" stroke-width="1.1"/>
<line x1="46.6" y1="975.5" x2="516.3" y2="975.5" stroke="#3a3a3a" stroke-width="1.1"/>
<line x1="46.6" y1="975.5" x2="50.8" y2="975.5" stroke="#3a3a3a" stroke-width="1.1"/>
<text x="37.8" y="980.1" class="tl" style="font-size:14px" text-anchor="end">0</text>
<line x1="46.6" y1="923.15" x2="50.8" y2="923.15" stroke="#3a3a3a" stroke-width="1.1"/>
<text x="37.8" y="927.75" class="tl" style="font-size:14px" text-anchor="end">1</text>
<line x1="46.6" y1="870.8" x2="50.8" y2="870.8" stroke="#3a3a3a" stroke-width="1.1"/>
<text x="37.8" y="875.4" class="tl" style="font-size:14px" text-anchor="end">2</text>
<line x1="46.6" y1="818.45" x2="50.8" y2="818.45" stroke="#3a3a3a" stroke-width="1.1"/>
<text x="37.8" y="823.05" class="tl" style="font-size:14px" text-anchor="end">3</text>
<line x1="46.6" y1="766.1" x2="50.8" y2="766.1" stroke="#3a3a3a" stroke-width="1.1"/>
<text x="37.8" y="770.7" class="tl" style="font-size:14px" text-anchor="end">4</text>
<line x1="46.6" y1="713.75" x2="50.8" y2="713.75" stroke="#3a3a3a" stroke-width="1.1"/>
<text x="37.8" y="718.35" class="tl" style="font-size:14px" text-anchor="end">5</text>
<line x1="167.5" y1="975.5" x2="167.5" y2="981" stroke="#3a3a3a" stroke-width="1.1"/>
<line x1="284" y1="975.5" x2="284" y2="981" stroke="#3a3a3a" stroke-width="1.1"/>
<line x1="400.8" y1="975.5" x2="400.8" y2="981" stroke="#3a3a3a" stroke-width="1.1"/>
<line x1="516.3" y1="975.5" x2="516.3" y2="981" stroke="#3a3a3a" stroke-width="1.1"/>
<text x="109.65" y="1004.6" class="xl" style="font-size:16.3px" text-anchor="middle" textLength="28.7" lengthAdjust="spacingAndGlyphs">cells</text>
<text x="225.35" y="1004.6" class="xl" style="font-size:16.3px" text-anchor="middle" textLength="39.1" lengthAdjust="spacingAndGlyphs">fMLP</text>
<text x="341.75" y="1004.6" class="xl" style="font-size:16.3px" text-anchor="middle" textLength="74.9" lengthAdjust="spacingAndGlyphs">normal IgG</text>
<text x="458.25" y="1004.6" class="xl" style="font-size:16.3px" text-anchor="middle" textLength="103.7" lengthAdjust="spacingAndGlyphs">HA normal IgG</text>
<text transform="translate(23.5,841.3) rotate(-90)" class="yl" style="font-size:18px" text-anchor="middle">nmol superoxide per 10<tspan dy="-8" style="font-size:12px">5</tspan><tspan dy="8"> cells</tspan></text>
<text x="2" y="705.6" class="pl" style="font-size:28.5px">C</text>
</g>
</svg>
</body></html>
